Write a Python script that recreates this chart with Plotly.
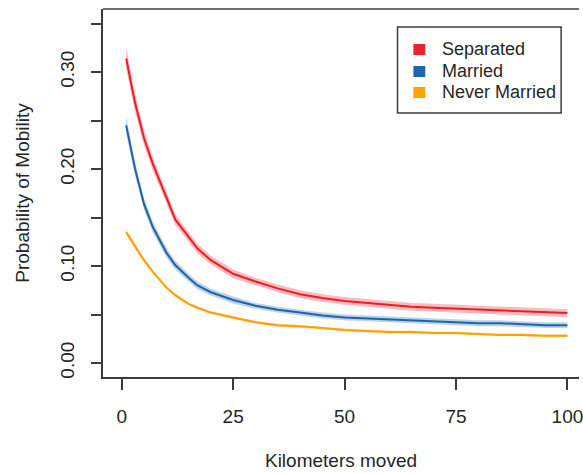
import plotly.graph_objects as go
import numpy as np

km = [1, 3, 5, 7, 10, 12, 15, 17, 20, 25, 30, 35, 40, 45, 50, 55, 60, 65, 70, 75, 80, 85, 90, 95, 100]

separated = [0.314, 0.268, 0.232, 0.205, 0.171, 0.148, 0.130, 0.118, 0.106, 0.092, 0.084, 0.077, 0.071,
             0.067, 0.064, 0.062, 0.060, 0.058, 0.057, 0.056, 0.055, 0.054, 0.053, 0.052, 0.0515]
married = [0.245, 0.200, 0.164, 0.140, 0.114, 0.101, 0.088, 0.080, 0.073, 0.065, 0.059, 0.055, 0.052,
           0.049, 0.047, 0.046, 0.045, 0.044, 0.043, 0.042, 0.041, 0.041, 0.040, 0.039, 0.039]
never_married = [0.135, 0.120, 0.106, 0.094, 0.078, 0.070, 0.061, 0.057, 0.052, 0.047, 0.042, 0.039, 0.038,
                 0.036, 0.034, 0.033, 0.032, 0.032, 0.031, 0.031, 0.030, 0.029, 0.029, 0.028, 0.028]

# half-widths of the confidence bands
sep_ci = [0.011, 0.009, 0.008, 0.007, 0.006, 0.0055, 0.005, 0.005, 0.0045, 0.0045, 0.004, 0.004, 0.004,
          0.004, 0.004, 0.004, 0.004, 0.004, 0.004, 0.004, 0.004, 0.004, 0.004, 0.004, 0.004]
mar_ci = [0.009, 0.007, 0.006, 0.0055, 0.005, 0.0045, 0.004, 0.004, 0.0035, 0.0035, 0.003, 0.003, 0.003,
          0.003, 0.003, 0.003, 0.003, 0.003, 0.003, 0.003, 0.003, 0.003, 0.003, 0.003, 0.003]
nev_ci = [0.003, 0.0025, 0.002, 0.002, 0.0018, 0.0016, 0.0015, 0.0015, 0.0015, 0.0015, 0.0015, 0.0015, 0.0015,
          0.0015, 0.0015, 0.0015, 0.0015, 0.0015, 0.0015, 0.0015, 0.0015, 0.0015, 0.0015, 0.0015, 0.0015]

labels = ["Separated", "Married", "Never Married"]
line_colors = ["#EE1D25", "#1F65A6", "#FFA000"]
band_colors = ["rgba(245,140,150,0.6)", "rgba(160,190,226,0.7)", "rgba(255,200,120,0.6)"]
legend_colors = ["#E8242C", "#2166A8", "#FFA200"]

TEXT = "#262626"
AX = "#3C3C3C"
FONT = "Liberation Sans, Arial, sans-serif"

# plot-area geometry in pixels (used to place the hand-drawn legend box)
W, H = 583, 474
ML, MR, MT, MB = 103, 0, 9, 97
PW, PH = W - ML - MR, H - MT - MB


def px(xp):
    return (xp - ML) / PW


def py(yp):
    return (H - MB - yp) / PH


fig = go.Figure()
x = np.array(km, dtype=float)
all_vals = [separated, married, never_married]
all_ci = [sep_ci, mar_ci, nev_ci]
for vals, ci, bc in zip(all_vals, all_ci, band_colors):
    v = np.array(vals)
    h = np.array(ci)
    fig.add_trace(go.Scatter(
        x=np.concatenate([x, x[::-1]]),
        y=np.concatenate([v + h, (v - h)[::-1]]),
        fill="toself", fillcolor=bc, line=dict(width=0), mode="lines",
        hoverinfo="skip", showlegend=False))
for name, vals, lc in zip(labels, all_vals, line_colors):
    fig.add_trace(go.Scatter(x=km, y=vals, mode="lines", line=dict(color=lc, width=2),
                             name=name, showlegend=False))

yt = [0.0, 0.05, 0.10, 0.15, 0.20, 0.25, 0.30, 0.35]
ytext = ["0.00", "", "0.10", "", "0.20", "", "0.30", ""]

fig.update_layout(
    width=W, height=H,
    margin=dict(l=ML, r=MR, t=MT, b=MB),
    paper_bgcolor="white", plot_bgcolor="white",
    font=dict(family=FONT, size=19, color=TEXT),
    showlegend=False,
    xaxis=dict(range=[-4.2, 102.6], tickvals=[0, 25, 50, 75, 100],
               ticks="outside", ticklen=11, tickwidth=1.5, tickcolor=AX,
               showline=True, linecolor=AX, linewidth=1.5, showgrid=False, zeroline=False,
               ticklabelstandoff=10, ticklabeloverflow="allow",
               title=dict(text="Kilometers moved", standoff=28, font=dict(size=19))),
    yaxis=dict(range=[-0.0144, 0.365], tickvals=yt, ticktext=ytext, tickangle=-90,
               ticks="outside", ticklen=10, tickwidth=1.5, tickcolor=AX,
               showline=True, linecolor=AX, linewidth=1.5, showgrid=False, zeroline=False,
               ticklabelstandoff=10,
               title=dict(text="Probability of Mobility", standoff=22, font=dict(size=19))),
)
fig.add_shape(type="line", xref="paper", yref="paper", x0=0, x1=1, y0=1, y1=1,
              line=dict(color=AX, width=1.5))

# legend box
fig.add_shape(type="rect", xref="paper", yref="paper",
              x0=px(400), x1=px(565), y0=py(113), y1=py(27),
              line=dict(color=AX, width=1.5), fillcolor="white", layer="above")
row_y = [50, 72, 93]
for name, col, ry in zip(labels, legend_colors, row_y):
    fig.add_shape(type="rect", xref="paper", yref="paper",
                  x0=px(416), x1=px(428), y0=py(ry + 5), y1=py(ry - 6),
                  line=dict(width=0), fillcolor=col, layer="above")
    fig.add_annotation(xref="paper", yref="paper", x=px(443), y=py(ry - 1),
                       xanchor="left", yanchor="middle", showarrow=False,
                       text=name, font=dict(size=18, color=TEXT))

fig.write_html("out.html")
